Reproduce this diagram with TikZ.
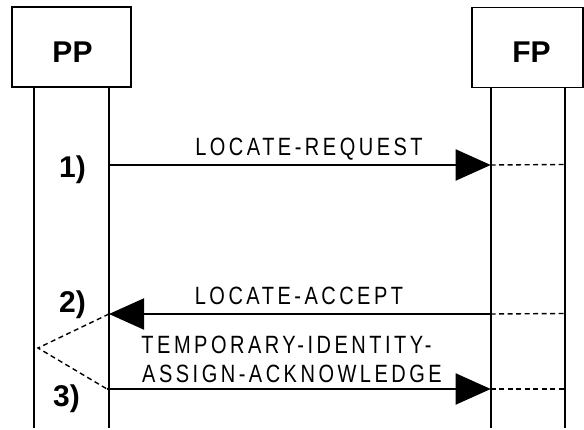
\documentclass[tikz,border=0pt]{standalone}
\usepackage{fontspec}
\setmainfont{Liberation Sans}
\newfontfamily\msgfont[FakeStretch=0.8,LetterSpace=14]{Liberation Sans}
\newfontfamily\boldlbl{Liberation Sans Bold}
\usetikzlibrary{arrows.meta}
\begin{document}
\begin{tikzpicture}[x=1pt,y=-1pt,
  entity/.style={draw,line width=1.8pt,minimum width=119pt,minimum height=80pt,inner sep=0pt},
  lifeline/.style={line width=1.8pt},
  msg/.style={line width=2pt,-{Triangle[length=35pt,width=31pt]}},
  cont/.style={line width=1.4pt,dash pattern=on 5pt off 3.5pt},
  msgtext/.style={font=\msgfont\fontsize{25}{29}\selectfont,inner sep=0pt,anchor=base},
  boldtext/.style={font=\boldlbl\fontsize{30}{35}\selectfont,inner sep=0pt,anchor=base}]
\useasboundingbox (0,0) rectangle (584,430);
% entity boxes
\node[entity] (pp) at (71.5,47) {};
\node[entity,minimum width=111pt] (fp) at (527.5,47.5) {};
\node[boldtext] (pplbl) at (72.5,63) {PP};
\node[boldtext] (fplbl) at (531.5,63) {FP};
% lifelines
\coordinate (ppA) at (34,87);   \coordinate (ppAb) at (34,428);
\coordinate (ppB) at (109,87);  \coordinate (ppBb) at (109,428);
\coordinate (fpA) at (490.7,87);\coordinate (fpAb) at (490.7,428);
\coordinate (fpB) at (565,87);  \coordinate (fpBb) at (565,428);
\draw[lifeline] (ppA) -- (ppAb);
\draw[lifeline] (ppB) -- (ppBb);
\draw[lifeline] (fpA) -- (fpAb);
\draw[lifeline] (fpB) -- (fpBb);
% message points
\coordinate (m1s) at (109,165);  \coordinate (m1e) at (490.7,165); \coordinate (m1d) at (565,164.5);
\coordinate (m2s) at (490.7,314);\coordinate (m2e) at (109,314);   \coordinate (m2d) at (565,313.5);
\coordinate (m3s) at (107,389);  \coordinate (m3e) at (490.7,389); \coordinate (m3d) at (565,389);
\coordinate (zig) at (38,348);
\draw[msg] (m1s) -- (m1e);
\draw[cont] (m1e) -- (m1d);
\draw[msg] (m2s) -- (m2e);
\draw[cont] (m2s) -- (m2d);
\draw[msg] (m3s) -- (m3e);
\draw[cont] (m3e) -- (m3d);
\draw[cont] (m2e) -- (zig) -- (m3s);
% texts
\node[msgtext] (t1) at (309,155.5) {LOCATE-REQUEST};
\node[msgtext] (t2) at (299,305) {LOCATE-ACCEPT};
\node[msgtext] (t3a) at (286.5,354) {TEMPORARY-IDENTITY-};
\node[msgtext] (t3b) at (292,383) {ASSIGN-ACKNOWLEDGE};
\node[boldtext] (n1) at (72.5,178) {1)};
\node[boldtext] (n2) at (72.5,313) {2)};
\node[boldtext] (n3) at (66.5,406.5) {3)};
\end{tikzpicture}
\end{document}
